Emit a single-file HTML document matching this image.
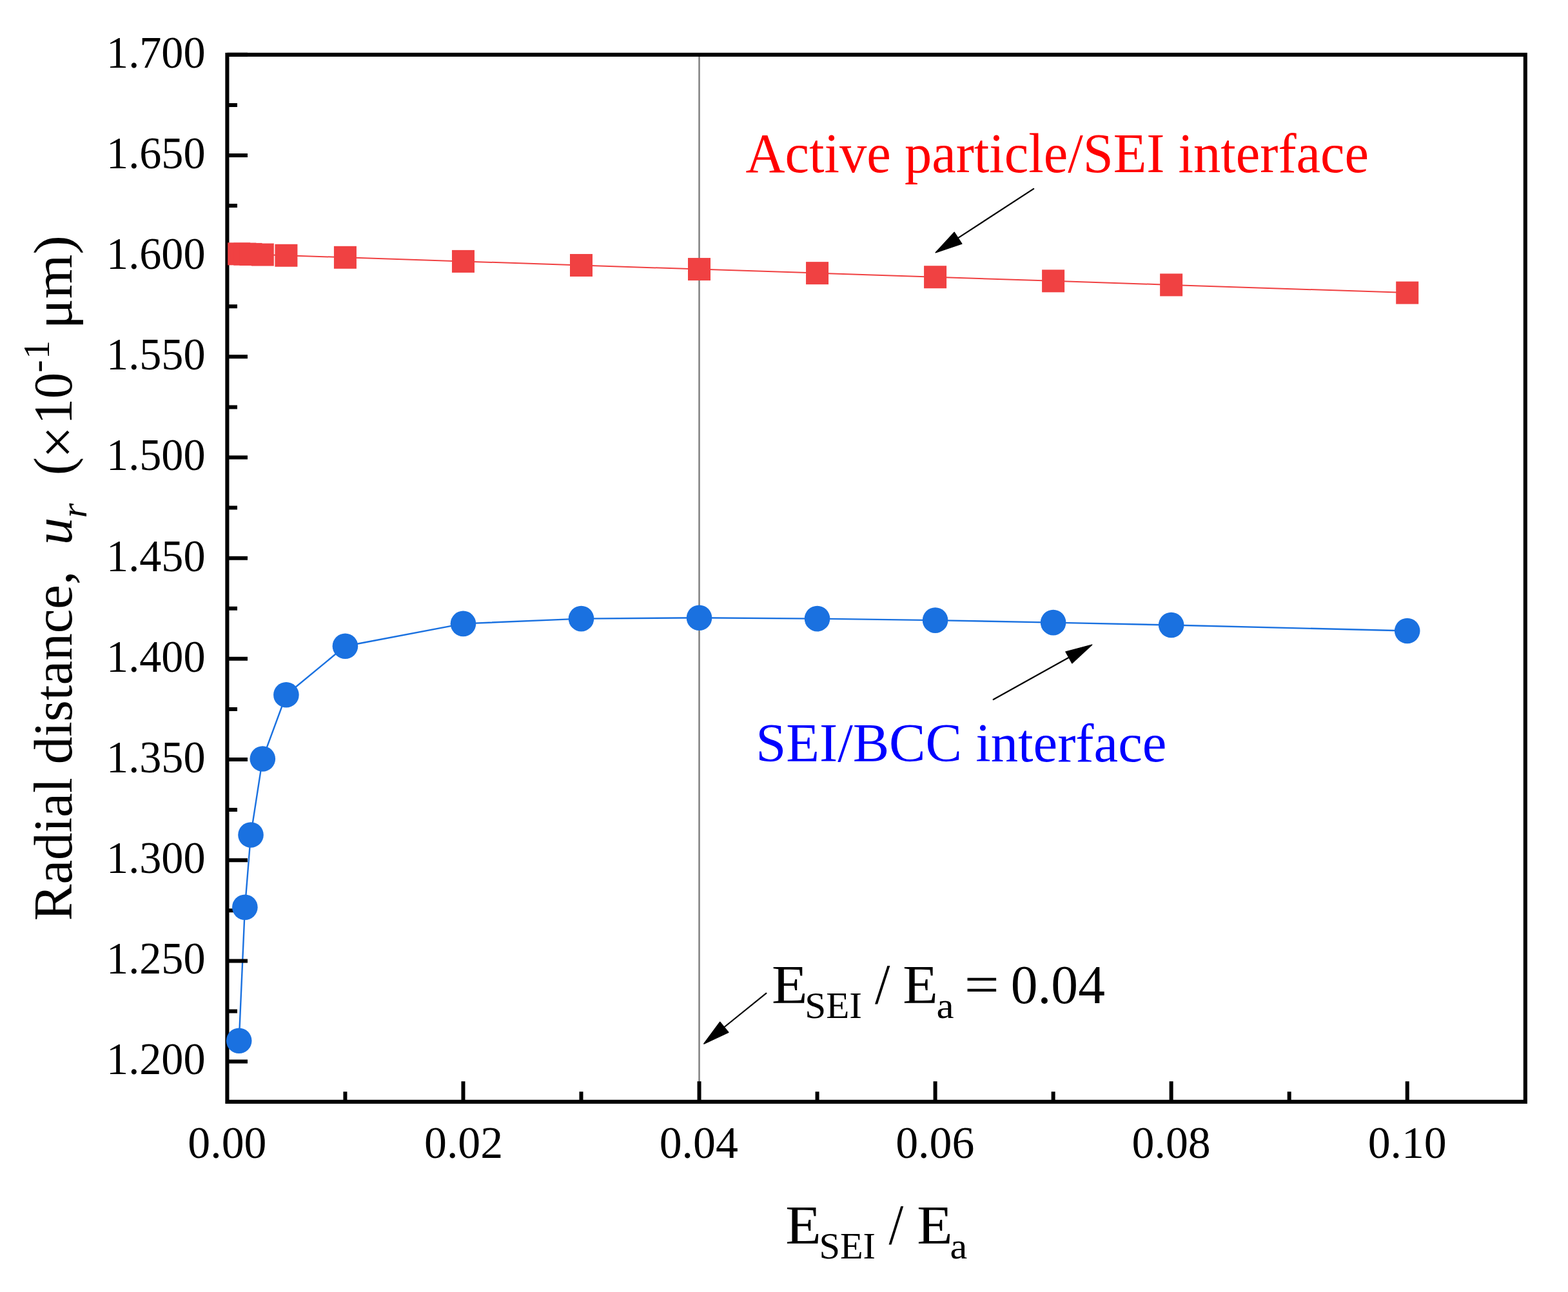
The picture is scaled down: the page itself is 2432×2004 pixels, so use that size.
<!DOCTYPE html>
<html><head><meta charset="utf-8"><title>Radial distance vs E_SEI/E_a</title>
<style>html,body{margin:0;padding:0;background:#fff;}body{width:2432px;height:2004px;overflow:hidden;}svg{display:block;}</style>
</head><body>
<svg width="2432" height="2004" viewBox="0 0 2432 2004" font-family="Liberation Serif, 'Times New Roman', serif" style="font-kerning:none">
<rect width="2432" height="2004" fill="#fff"/>
<line x1="1084.5" y1="84.85" x2="1084.5" y2="1708.9" stroke="#808080" stroke-width="2.5"/>
<polyline fill="none" stroke="#f04142" stroke-width="2" points="370.7,393.8 379.9,394.1 389.0,394.4 407.3,395.0 443.9,396.2 535.4,399.3 718.5,405.4 901.5,411.5 1084.5,417.6 1267.6,423.6 1450.6,429.7 1633.6,435.8 1816.6,441.9 2182.7,454.1"/>
<polyline fill="none" stroke="#1a71e0" stroke-width="2.4" points="370.7,1614.3 379.9,1407.2 389.0,1295.0 407.3,1177.0 443.9,1077.8 535.4,1002.2 718.5,967.4 901.5,959.6 1084.5,958.3 1267.6,959.6 1450.6,962.1 1633.6,965.6 1816.6,969.5 2182.7,978.5"/>
<rect x="352.4" y="84.85" width="2013.40" height="1624.05" fill="none" stroke="#000" stroke-width="6.1"/>
<path d="M352.40,84.85H384.00M352.40,162.94H368.00M352.40,241.02H384.00M352.40,319.11H368.00M352.40,397.19H384.00M352.40,475.28H368.00M352.40,553.36H384.00M352.40,631.45H368.00M352.40,709.53H384.00M352.40,787.62H368.00M352.40,865.70H384.00M352.40,943.79H368.00M352.40,1021.87H384.00M352.40,1099.96H368.00M352.40,1178.04H384.00M352.40,1256.12H368.00M352.40,1334.21H384.00M352.40,1412.30H368.00M352.40,1490.38H384.00M352.40,1568.47H368.00M352.40,1646.55H384.00M535.43,1708.9V1693.20M718.46,1708.9V1677.30M901.49,1708.9V1693.20M1084.52,1708.9V1677.30M1267.55,1708.9V1693.20M1450.58,1708.9V1677.30M1633.61,1708.9V1693.20M1816.64,1708.9V1677.30M1999.67,1708.9V1693.20M2182.70,1708.9V1677.30" stroke="#000" stroke-width="6" fill="none"/>
<rect x="353.20" y="376.31" width="35" height="35" fill="#f04142"/>
<rect x="362.35" y="376.61" width="35" height="35" fill="#f04142"/>
<rect x="371.51" y="376.92" width="35" height="35" fill="#f04142"/>
<rect x="389.81" y="377.53" width="35" height="35" fill="#f04142"/>
<rect x="426.41" y="378.75" width="35" height="35" fill="#f04142"/>
<rect x="517.93" y="381.79" width="35" height="35" fill="#f04142"/>
<rect x="700.96" y="387.88" width="35" height="35" fill="#f04142"/>
<rect x="883.99" y="393.97" width="35" height="35" fill="#f04142"/>
<rect x="1067.02" y="400.06" width="35" height="35" fill="#f04142"/>
<rect x="1250.05" y="406.15" width="35" height="35" fill="#f04142"/>
<rect x="1433.08" y="412.24" width="35" height="35" fill="#f04142"/>
<rect x="1616.11" y="418.33" width="35" height="35" fill="#f04142"/>
<rect x="1799.14" y="424.42" width="35" height="35" fill="#f04142"/>
<rect x="2165.20" y="436.60" width="35" height="35" fill="#f04142"/>
<circle cx="370.70" cy="1614.30" r="19.8" fill="#1a71e0"/>
<circle cx="379.85" cy="1407.20" r="19.8" fill="#1a71e0"/>
<circle cx="389.01" cy="1295.00" r="19.8" fill="#1a71e0"/>
<circle cx="407.31" cy="1177.00" r="19.8" fill="#1a71e0"/>
<circle cx="443.91" cy="1077.80" r="19.8" fill="#1a71e0"/>
<circle cx="535.43" cy="1002.20" r="19.8" fill="#1a71e0"/>
<circle cx="718.46" cy="967.40" r="19.8" fill="#1a71e0"/>
<circle cx="901.49" cy="959.60" r="19.8" fill="#1a71e0"/>
<circle cx="1084.52" cy="958.30" r="19.8" fill="#1a71e0"/>
<circle cx="1267.55" cy="959.60" r="19.8" fill="#1a71e0"/>
<circle cx="1450.58" cy="962.10" r="19.8" fill="#1a71e0"/>
<circle cx="1633.61" cy="965.60" r="19.8" fill="#1a71e0"/>
<circle cx="1816.64" cy="969.50" r="19.8" fill="#1a71e0"/>
<circle cx="2182.70" cy="978.50" r="19.8" fill="#1a71e0"/>
<text transform="translate(165.00,104.65) scale(0.9656,1)" font-size="70.7" fill="#000">1.700</text>
<text transform="translate(165.00,260.82) scale(0.9656,1)" font-size="70.7" fill="#000">1.650</text>
<text transform="translate(165.00,416.99) scale(0.9656,1)" font-size="70.7" fill="#000">1.600</text>
<text transform="translate(165.00,573.16) scale(0.9656,1)" font-size="70.7" fill="#000">1.550</text>
<text transform="translate(165.00,729.33) scale(0.9656,1)" font-size="70.7" fill="#000">1.500</text>
<text transform="translate(165.00,885.50) scale(0.9656,1)" font-size="70.7" fill="#000">1.450</text>
<text transform="translate(165.00,1041.67) scale(0.9656,1)" font-size="70.7" fill="#000">1.400</text>
<text transform="translate(165.00,1197.84) scale(0.9656,1)" font-size="70.7" fill="#000">1.350</text>
<text transform="translate(165.00,1354.01) scale(0.9656,1)" font-size="70.7" fill="#000">1.300</text>
<text transform="translate(165.00,1510.18) scale(0.9656,1)" font-size="70.7" fill="#000">1.250</text>
<text transform="translate(165.00,1666.35) scale(0.9656,1)" font-size="70.7" fill="#000">1.200</text>
<text transform="translate(291.33,1795.90) scale(0.9900,1)" font-size="70.5" fill="#000">0.00</text>
<text transform="translate(657.99,1795.90) scale(0.9900,1)" font-size="70.5" fill="#000">0.02</text>
<text transform="translate(1022.67,1795.90) scale(0.9900,1)" font-size="70.5" fill="#000">0.04</text>
<text transform="translate(1389.22,1795.90) scale(0.9900,1)" font-size="70.5" fill="#000">0.06</text>
<text transform="translate(1755.57,1795.90) scale(0.9900,1)" font-size="70.5" fill="#000">0.08</text>
<text transform="translate(2121.63,1795.90) scale(0.9900,1)" font-size="70.5" fill="#000">0.10</text>
<text transform="translate(1218.19,1928.50) scale(1.0627,1)" font-size="85.4" fill="#000">E</text>
<text transform="translate(1270.50,1952.40) scale(1.0064,1)" font-size="58.0" fill="#000">SEI</text>
<text transform="translate(1378.50,1929.00) scale(0.9129,1)" font-size="89.5" fill="#000">/</text>
<text transform="translate(1422.19,1928.50) scale(1.0605,1)" font-size="85.4" fill="#000">E</text>
<text transform="translate(1473.58,1952.40) scale(1.0388,1)" font-size="58.0" fill="#000">a</text>
<text transform="translate(1196.98,1555.80) scale(1.0674,1)" font-size="85.2" fill="#000">E</text>
<text transform="translate(1248.35,1578.60) scale(1.0258,1)" font-size="57.6" fill="#000">SEI</text>
<text transform="translate(1357.10,1556.10) scale(0.9389,1)" font-size="89.7" fill="#000">/</text>
<text transform="translate(1400.23,1555.80) scale(1.0475,1)" font-size="85.2" fill="#000">E</text>
<text transform="translate(1452.56,1578.60) scale(1.0592,1)" font-size="57.6" fill="#000">a</text>
<text transform="translate(1495.63,1555.80) scale(1.1249,1)" font-size="85.2" fill="#000">=</text>
<text transform="translate(1567.72,1555.80) scale(0.9805,1)" font-size="85.2" fill="#000">0.04</text>
<text transform="translate(1156.57,266.90) scale(0.9714,1)" font-size="87.0" fill="#ff0000">Active particle/SEI interface</text>
<text transform="translate(1172.14,1181.30) scale(0.9903,1)" font-size="85.5" fill="#0000ff">SEI/BCC interface</text>
<text transform="rotate(-90) translate(-1428.25,111.00) scale(0.9995,1)" font-size="85.0">Radial distance,</text>
<text transform="rotate(-90) translate(-845.13,111.00)" font-size="85.0" font-style="italic">u</text>
<text transform="rotate(-90) translate(-803.15,134.10)" font-size="58.0" font-style="italic">r</text>
<text transform="rotate(-90) translate(-737.14,111.00)" font-size="85.0">(</text>
<text transform="rotate(-90) translate(-710.96,118.70) scale(1.0084,1)" font-size="88.5">×</text>
<text transform="rotate(-90) translate(-658.37,111.00) scale(0.9463,1)" font-size="85.0">10</text>
<text transform="rotate(-90) translate(-577.85,76.10)" font-size="58.0">-</text>
<text transform="rotate(-90) translate(-557.00,76.10)" font-size="58.0">1</text>
<text transform="rotate(-90) translate(-510.56,111.00) scale(1.0389,1)" font-size="85.0">μm)</text>
<line x1="1603.1" y1="292.8" x2="1486.00" y2="369.20" stroke="#000" stroke-width="2.2" stroke-linecap="round"/><polygon points="1451.2,391.8 1480.2,360.3 1491.8,378.1" fill="#000" stroke="#000" stroke-width="1.5" stroke-linejoin="round"/>
<line x1="1540.7" y1="1085.0" x2="1657.90" y2="1019.75" stroke="#000" stroke-width="2.2" stroke-linecap="round"/><polygon points="1693.6,1000.1 1653.0,1010.9 1662.8,1028.6" fill="#000" stroke="#000" stroke-width="1.5" stroke-linejoin="round"/>
<line x1="1188.4" y1="1540.6" x2="1123.25" y2="1593.25" stroke="#000" stroke-width="2.2" stroke-linecap="round"/><polygon points="1091.8,1619.0 1116.7,1585.3 1129.8,1601.2" fill="#000" stroke="#000" stroke-width="1.5" stroke-linejoin="round"/>
</svg>
</body></html>
